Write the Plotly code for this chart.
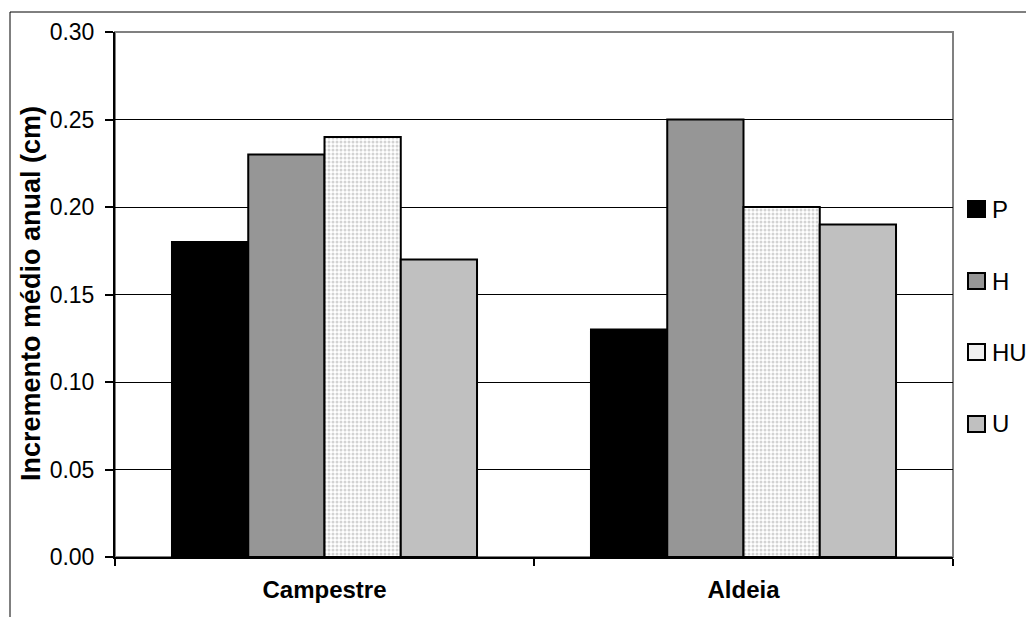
import plotly.graph_objects as go

# Incremento médio anual por tratamento em duas áreas
locais = ["Campestre", "Aldeia"]
series = ["P", "H", "HU", "U"]
val_P = [0.18, 0.13]
val_H = [0.23, 0.25]
val_HU = [0.24, 0.20]
val_U = [0.17, 0.19]
y_ticks = [0.00, 0.05, 0.10, 0.15, 0.20, 0.25, 0.30]

valores = {"P": val_P, "H": val_H, "HU": val_HU, "U": val_U}
cores = {"P": "#000000", "H": "#969696", "HU": "#ffffff", "U": "#c0c0c0"}

W, H = 1026, 617
ML, MR, MT, MB = 115, 73, 32, 60
PW, PH = W - ML - MR, H - MT - MB
FONTE = "Liberation Sans, Arial"


def px_x(p):
    return (p - ML) / PW


def px_y(p):
    return (H - MB - p) / PH


fig = go.Figure()
for s in series:
    marker = dict(color=cores[s], line=dict(color="black", width=2))
    if s == "HU":
        marker["pattern"] = dict(shape=".", fgcolor="#a8a8a8", bgcolor="white",
                                 size=4, solidity=0.45)
    fig.add_trace(go.Bar(name=s, x=locais, y=valores[s], marker=marker,
                         showlegend=False))

shapes = [
    # moldura cinza da área de plotagem
    dict(type="rect", xref="paper", yref="paper", x0=0, x1=1, y0=0, y1=1,
         line=dict(color="#808080", width=2), layer="between"),
    # moldura externa do gráfico
    dict(type="line", xref="paper", yref="paper", x0=px_x(10), x1=px_x(10),
         y0=px_y(12), y1=px_y(640), line=dict(color="black", width=1)),
    dict(type="line", xref="paper", yref="paper", x0=px_x(10), x1=px_x(1040),
         y0=px_y(12), y1=px_y(12), line=dict(color="black", width=1)),
]
annotations = [
    dict(text="<b>Incremento médio anual (cm)</b>", textangle=-90,
         xref="paper", yref="paper", x=px_x(31), y=px_y(294),
         xanchor="center", yanchor="middle", showarrow=False,
         font=dict(family=FONTE, size=27, color="black")),
]

# legenda desenhada à direita
leg_y = [209, 281, 352, 424]
for s, yc in zip(series, leg_y):
    sq = dict(type="rect", xref="paper", yref="paper",
              x0=px_x(968), x1=px_x(985), y0=px_y(yc + 8), y1=px_y(yc - 8),
              fillcolor=cores[s], line=dict(color="black", width=2))
    if s == "HU":
        sq["fillcolor"] = "#f0f0f0"
    shapes.append(sq)
    annotations.append(dict(text=s, xref="paper", yref="paper", x=px_x(990),
                            y=px_y(yc), xanchor="left", yanchor="middle",
                            showarrow=False,
                            font=dict(family=FONTE, size=24, color="black")))

fig.update_layout(
    width=W, height=H,
    margin=dict(l=ML, r=MR, t=MT, b=MB),
    paper_bgcolor="white", plot_bgcolor="white",
    barmode="group", bargap=0.272, bargroupgap=0,
    font=dict(family=FONTE, color="black"),
    shapes=shapes, annotations=annotations,
)
fig.update_xaxes(
    type="category", tickson="boundaries", ticks="outside", ticklen=7,
    tickcolor="black", tickwidth=1.5, showline=True, linecolor="black",
    linewidth=2, showgrid=False, ticklabelstandoff=10,
    tickfont=dict(family=FONTE, size=24, weight="bold", color="black"),
)
fig.update_yaxes(
    range=[0, 0.30], tickvals=y_ticks, tickformat=".2f", ticks="outside",
    ticklen=8, tickcolor="black", tickwidth=1.5, showline=True,
    linecolor="black", linewidth=2, showgrid=True, gridcolor="black",
    gridwidth=1, zeroline=False, ticklabelstandoff=6,
    tickfont=dict(family=FONTE, size=23, color="black"),
)

fig.write_html("out.html")
